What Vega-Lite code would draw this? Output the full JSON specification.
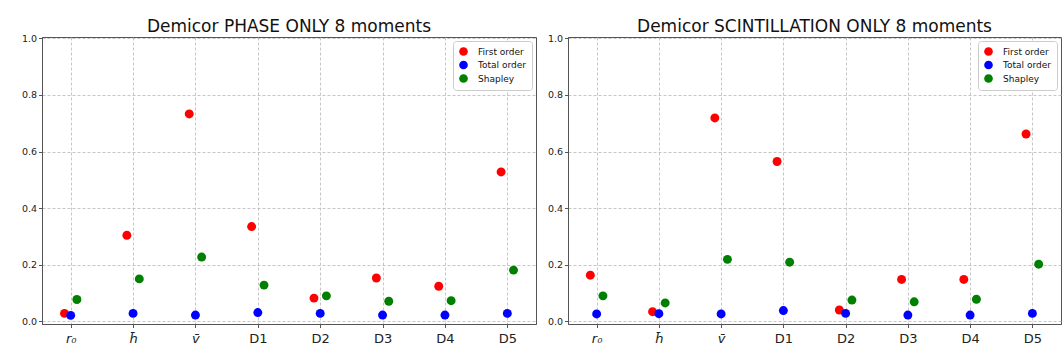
{
  "$schema": "https://vega.github.io/schema/vega-lite/v6.json",
  "padding": {"left": 20, "top": 17, "right": 0, "bottom": 0},
  "background": "white",
  "spacing": 9,
  "data": {"values": [
    {"panel": "phase", "param": "r₀", "series": "First order", "value": 0.028},
    {"panel": "phase", "param": "h̄", "series": "First order", "value": 0.304},
    {"panel": "phase", "param": "v̄", "series": "First order", "value": 0.733},
    {"panel": "phase", "param": "D1", "series": "First order", "value": 0.335},
    {"panel": "phase", "param": "D2", "series": "First order", "value": 0.082},
    {"panel": "phase", "param": "D3", "series": "First order", "value": 0.153},
    {"panel": "phase", "param": "D4", "series": "First order", "value": 0.124},
    {"panel": "phase", "param": "D5", "series": "First order", "value": 0.528},
    {"panel": "phase", "param": "r₀", "series": "Total order", "value": 0.021},
    {"panel": "phase", "param": "h̄", "series": "Total order", "value": 0.028},
    {"panel": "phase", "param": "v̄", "series": "Total order", "value": 0.022},
    {"panel": "phase", "param": "D1", "series": "Total order", "value": 0.031},
    {"panel": "phase", "param": "D2", "series": "Total order", "value": 0.028},
    {"panel": "phase", "param": "D3", "series": "Total order", "value": 0.022},
    {"panel": "phase", "param": "D4", "series": "Total order", "value": 0.022},
    {"panel": "phase", "param": "D5", "series": "Total order", "value": 0.028},
    {"panel": "phase", "param": "r₀", "series": "Shapley", "value": 0.077},
    {"panel": "phase", "param": "h̄", "series": "Shapley", "value": 0.150},
    {"panel": "phase", "param": "v̄", "series": "Shapley", "value": 0.227},
    {"panel": "phase", "param": "D1", "series": "Shapley", "value": 0.128},
    {"panel": "phase", "param": "D2", "series": "Shapley", "value": 0.090},
    {"panel": "phase", "param": "D3", "series": "Shapley", "value": 0.071},
    {"panel": "phase", "param": "D4", "series": "Shapley", "value": 0.073},
    {"panel": "phase", "param": "D5", "series": "Shapley", "value": 0.181},
    {"panel": "scint", "param": "r₀", "series": "First order", "value": 0.163},
    {"panel": "scint", "param": "h̄", "series": "First order", "value": 0.034},
    {"panel": "scint", "param": "v̄", "series": "First order", "value": 0.719},
    {"panel": "scint", "param": "D1", "series": "First order", "value": 0.565},
    {"panel": "scint", "param": "D2", "series": "First order", "value": 0.040},
    {"panel": "scint", "param": "D3", "series": "First order", "value": 0.148},
    {"panel": "scint", "param": "D4", "series": "First order", "value": 0.148},
    {"panel": "scint", "param": "D5", "series": "First order", "value": 0.662},
    {"panel": "scint", "param": "r₀", "series": "Total order", "value": 0.026},
    {"panel": "scint", "param": "h̄", "series": "Total order", "value": 0.027},
    {"panel": "scint", "param": "v̄", "series": "Total order", "value": 0.026},
    {"panel": "scint", "param": "D1", "series": "Total order", "value": 0.038},
    {"panel": "scint", "param": "D2", "series": "Total order", "value": 0.028},
    {"panel": "scint", "param": "D3", "series": "Total order", "value": 0.022},
    {"panel": "scint", "param": "D4", "series": "Total order", "value": 0.022},
    {"panel": "scint", "param": "D5", "series": "Total order", "value": 0.028},
    {"panel": "scint", "param": "r₀", "series": "Shapley", "value": 0.090},
    {"panel": "scint", "param": "h̄", "series": "Shapley", "value": 0.065},
    {"panel": "scint", "param": "v̄", "series": "Shapley", "value": 0.219},
    {"panel": "scint", "param": "D1", "series": "Shapley", "value": 0.209},
    {"panel": "scint", "param": "D2", "series": "Shapley", "value": 0.075},
    {"panel": "scint", "param": "D3", "series": "Shapley", "value": 0.069},
    {"panel": "scint", "param": "D4", "series": "Shapley", "value": 0.078},
    {"panel": "scint", "param": "D5", "series": "Shapley", "value": 0.202}
  ]},
  "hconcat": [
    {
      "title": "Demicor PHASE ONLY 8 moments",
      "width": 494,
      "height": 287,
      "transform": [{"filter": "datum.panel === 'phase'"}],
      "encoding": {
        "x": {"field": "param", "type": "nominal", "sort": ["r₀", "h̄", "v̄", "D1", "D2", "D3", "D4", "D5"], "scale": {"type": "point", "padding": 0.46}},
        "y": {"field": "value", "type": "quantitative", "scale": {"domain": [-0.0095, 1.005], "nice": false, "zero": false}, "axis": {"values": [0, 0.2, 0.4, 0.6, 0.8, 1.0], "format": ".1f"}},
        "color": {"field": "series", "type": "nominal", "scale": {"domain": ["First order", "Total order", "Shapley"], "range": ["#ff0000", "#0000ff", "#008000"]}}
      },
      "layer": [
        {"transform": [{"filter": "datum.series === 'First order'"}], "mark": {"type": "point", "filled": true, "opacity": 1, "size": 80, "xOffset": -6.2}},
        {"transform": [{"filter": "datum.series === 'Total order'"}], "mark": {"type": "point", "filled": true, "opacity": 1, "size": 80, "xOffset": 0}},
        {"transform": [{"filter": "datum.series === 'Shapley'"}], "mark": {"type": "point", "filled": true, "opacity": 1, "size": 80, "xOffset": 6.2}}
      ]
    },
    {
      "title": "Demicor SCINTILLATION ONLY 8 moments",
      "width": 493,
      "height": 287,
      "transform": [{"filter": "datum.panel === 'scint'"}],
      "encoding": {
        "x": {"field": "param", "type": "nominal", "sort": ["r₀", "h̄", "v̄", "D1", "D2", "D3", "D4", "D5"], "scale": {"type": "point", "padding": 0.46}},
        "y": {"field": "value", "type": "quantitative", "scale": {"domain": [-0.0095, 1.005], "nice": false, "zero": false}, "axis": {"values": [0, 0.2, 0.4, 0.6, 0.8, 1.0], "format": ".1f"}},
        "color": {"field": "series", "type": "nominal", "scale": {"domain": ["First order", "Total order", "Shapley"], "range": ["#ff0000", "#0000ff", "#008000"]}}
      },
      "layer": [
        {"transform": [{"filter": "datum.series === 'First order'"}], "mark": {"type": "point", "filled": true, "opacity": 1, "size": 80, "xOffset": -6.3}},
        {"transform": [{"filter": "datum.series === 'Total order'"}], "mark": {"type": "point", "filled": true, "opacity": 1, "size": 80, "xOffset": 0}},
        {"transform": [{"filter": "datum.series === 'Shapley'"}], "mark": {"type": "point", "filled": true, "opacity": 1, "size": 80, "xOffset": 6.3}}
      ]
    }
  ],
  "resolve": {"legend": {"color": "independent"}, "scale": {"x": "independent", "y": "independent", "color": "independent"}},
  "config": {
    "font": "DejaVu Sans",
    "view": {"stroke": "#555555", "strokeWidth": 1},
    "title": {"fontSize": 17, "fontWeight": "normal", "font": "DejaVu Sans", "color": "#111111", "offset": -3, "anchor": "middle"},
    "axisX": {
      "title": null,
      "labelAngle": 0,
      "labelFontSize": 13,
      "labelColor": "#222222",
      "labelPadding": 5,
      "labelFontStyle": {"condition": {"test": "indexof(['D1','D2','D3','D4','D5'], datum.value) < 0", "value": "italic"}, "value": "normal"},
      "tickSize": 3.5,
      "tickColor": "#555555",
      "domainColor": "#555555",
      "grid": true,
      "gridColor": "#b8b8b8",
      "gridDash": [3, 2],
      "gridWidth": 0.8
    },
    "axisY": {
      "title": null,
      "labelFontSize": 9.5,
      "labelColor": "#222222",
      "labelPadding": 2,
      "tickSize": 3.5,
      "tickColor": "#555555",
      "domainColor": "#555555",
      "grid": true,
      "gridColor": "#b8b8b8",
      "gridDash": [3, 2],
      "gridWidth": 0.8
    },
    "legend": {
      "title": null,
      "orient": "top-right",
      "offset": 4,
      "fillColor": "white",
      "strokeColor": "#cccccc",
      "cornerRadius": 3,
      "padding": 6,
      "labelFontSize": 9,
      "labelColor": "#111111",
      "labelOffset": 10,
      "symbolType": "circle",
      "symbolSize": 75,
      "symbolStrokeWidth": 0,
      "rowPadding": 3.5
    }
  }
}
